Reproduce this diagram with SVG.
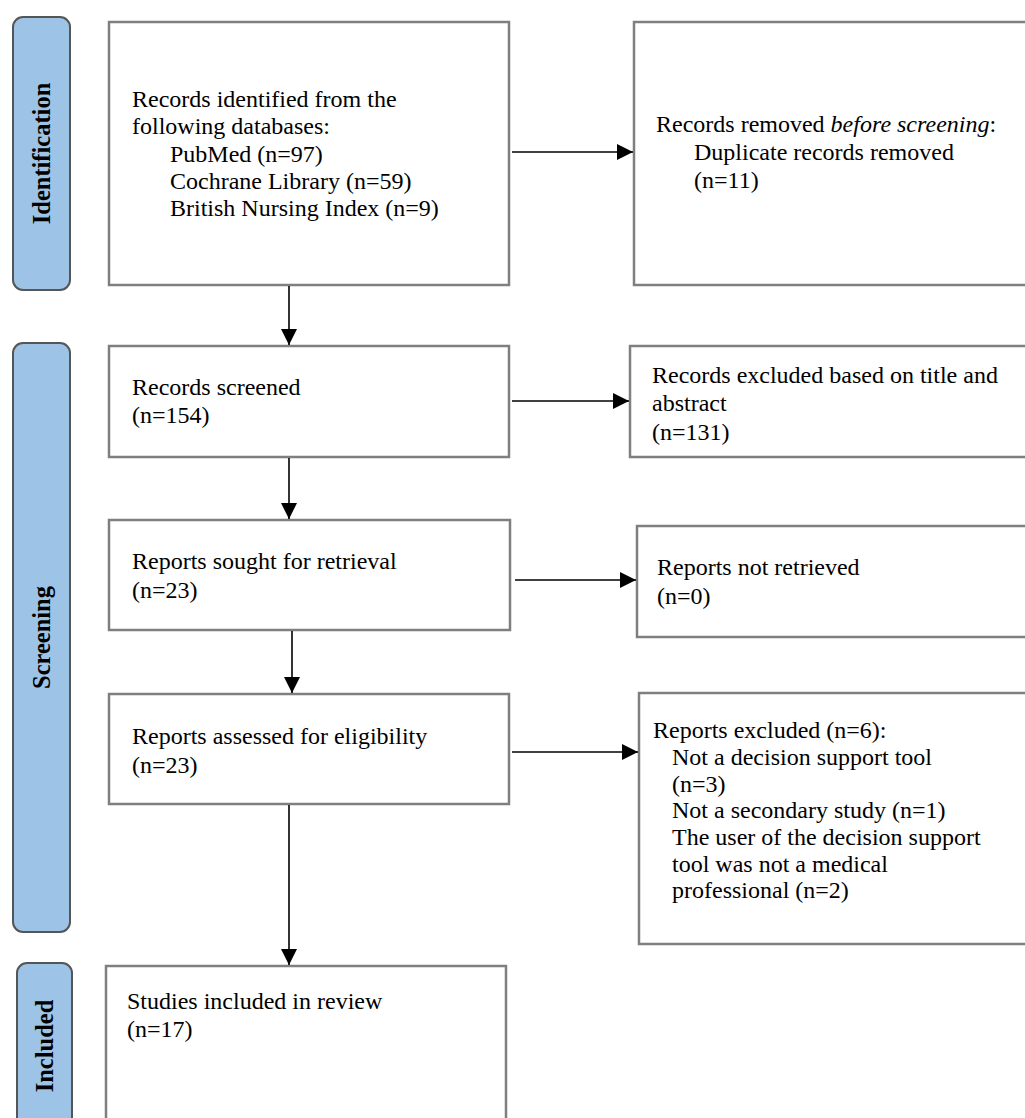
<svg xmlns="http://www.w3.org/2000/svg" width="1025" height="1118" viewBox="0 0 1025 1118">
  <style>
    .box { fill: #ffffff; stroke: #7f7f7f; stroke-width: 2.5; }
    .phase { fill: #9dc3e6; stroke: #555555; stroke-width: 2; }
    .t { font-family: "Liberation Serif", "Times New Roman", serif; font-size: 24px; fill: #000000; }
    .ph { font-family: "Liberation Serif", "Times New Roman", serif; font-size: 24.5px; font-weight: bold; fill: #000000; text-anchor: middle; }
    .link { stroke: #000000; stroke-width: 1.6; fill: none; marker-end: url(#arrow); }
  </style>
  <defs>
    <marker id="arrow" markerUnits="userSpaceOnUse" markerWidth="18" markerHeight="18" refX="16" refY="8" orient="auto">
      <path d="M0,0 L16,8 L0,16 z" fill="#000000"/>
    </marker>
  </defs>
  <rect width="1025" height="1118" fill="#ffffff"/>

  <!-- phase labels -->
  <g id="phase-identification">
    <rect class="phase" x="13" y="17" width="57" height="273" rx="10"/>
    <text class="ph" transform="translate(50,153.5) rotate(-90)">Identification</text>
  </g>
  <g id="phase-screening">
    <rect class="phase" x="13" y="343" width="57" height="589" rx="10"/>
    <text class="ph" transform="translate(50,637.5) rotate(-90)">Screening</text>
  </g>
  <g id="phase-included">
    <rect class="phase" x="17" y="963" width="55" height="170" rx="10"/>
    <text class="ph" transform="translate(53,1046) rotate(-90)">Included</text>
  </g>

  <!-- flow boxes -->
  <g id="records-identified">
    <rect class="box" x="109" y="22" width="400" height="263"/>
    <text class="t" x="132" y="107">Records identified from the</text>
    <text class="t" x="132" y="134">following databases:</text>
    <text class="t" x="170" y="162">PubMed (n=97)</text>
    <text class="t" x="170" y="189">Cochrane Library (n=59)</text>
    <text class="t" x="170" y="216">British Nursing Index (n=9)</text>
  </g>
  <g id="records-removed">
    <rect class="box" x="634" y="22" width="420" height="263"/>
    <text class="t" x="656" y="132">Records removed <tspan font-style="italic">before screening</tspan>:</text>
    <text class="t" x="694" y="160">Duplicate records removed</text>
    <text class="t" x="694" y="188">(n=11)</text>
  </g>
  <g id="records-screened">
    <rect class="box" x="109" y="346" width="400" height="111"/>
    <text class="t" x="132" y="395">Records screened</text>
    <text class="t" x="132" y="423">(n=154)</text>
  </g>
  <g id="records-excluded">
    <rect class="box" x="630" y="346" width="420" height="111"/>
    <text class="t" x="652" y="383">Records excluded based on title and</text>
    <text class="t" x="652" y="411">abstract</text>
    <text class="t" x="652" y="440">(n=131)</text>
  </g>
  <g id="reports-sought">
    <rect class="box" x="109" y="520" width="401" height="110"/>
    <text class="t" x="132" y="569">Reports sought for retrieval</text>
    <text class="t" x="132" y="598">(n=23)</text>
  </g>
  <g id="reports-not-retrieved">
    <rect class="box" x="637" y="526" width="420" height="111"/>
    <text class="t" x="657" y="575">Reports not retrieved</text>
    <text class="t" x="657" y="604">(n=0)</text>
  </g>
  <g id="reports-assessed">
    <rect class="box" x="109" y="694" width="400" height="110"/>
    <text class="t" x="132" y="744">Reports assessed for eligibility</text>
    <text class="t" x="132" y="773">(n=23)</text>
  </g>
  <g id="reports-excluded">
    <rect class="box" x="639" y="693" width="420" height="251"/>
    <text class="t" x="653" y="738">Reports excluded (n=6):</text>
    <text class="t" x="672" y="765">Not a decision support tool</text>
    <text class="t" x="672" y="792">(n=3)</text>
    <text class="t" x="672" y="818">Not a secondary study (n=1)</text>
    <text class="t" x="672" y="845">The user of the decision support</text>
    <text class="t" x="672" y="872">tool was not a medical</text>
    <text class="t" x="672" y="898">professional (n=2)</text>
  </g>
  <g id="studies-included">
    <rect class="box" x="106" y="966" width="400" height="170"/>
    <text class="t" x="127" y="1009">Studies included in review</text>
    <text class="t" x="127" y="1037">(n=17)</text>
  </g>

  <!-- connectors -->
  <g id="connectors">
    <line class="link" x1="512" y1="152" x2="633" y2="152"/>
    <line class="link" x1="289" y1="286" x2="289" y2="345"/>
    <line class="link" x1="512" y1="401" x2="629" y2="401"/>
    <line class="link" x1="289" y1="458" x2="289" y2="519"/>
    <line class="link" x1="515" y1="580" x2="636" y2="580"/>
    <line class="link" x1="292" y1="631" x2="292" y2="693"/>
    <line class="link" x1="512" y1="752" x2="638" y2="752"/>
    <line class="link" x1="289" y1="805" x2="289" y2="965"/>
  </g>
</svg>
